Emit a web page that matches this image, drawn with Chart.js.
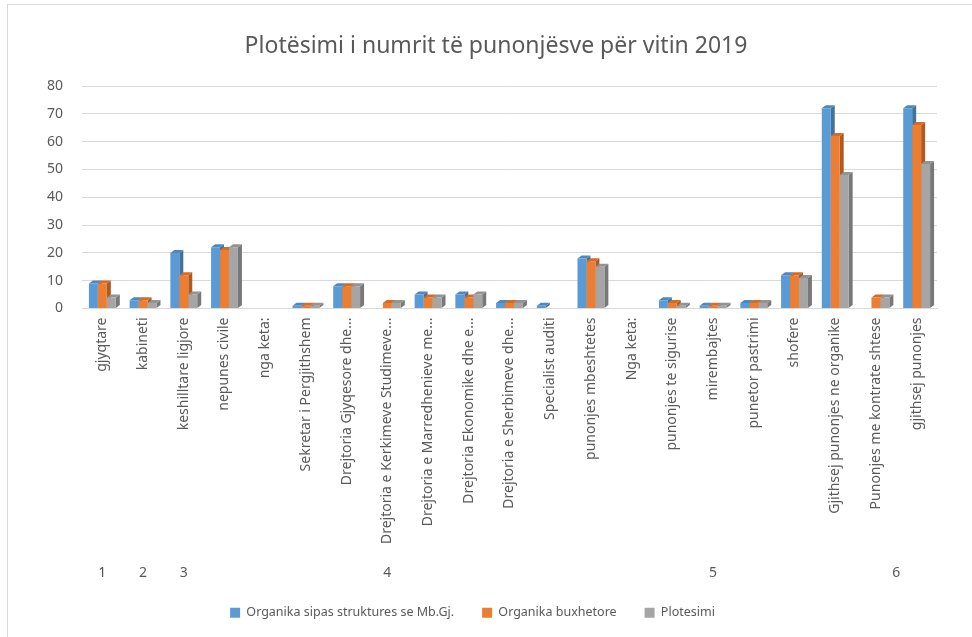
<!DOCTYPE html>
<html>
<head>
<meta charset="utf-8">
<script src="https://cdn.jsdelivr.net/npm/chart.js@4.4.0/dist/chart.umd.min.js"></script>
<style>
    html, body { margin: 0; padding: 0; background: #ffffff; overflow: hidden; }
    #box { position: absolute; left: 7px; top: 4px; width: 972px; height: 640px; border: 1px solid #d9d9d9; background: #fff; }
    #wrap { position: absolute; left: 0; top: 0; width: 964px; height: 632px; }
</style>
</head>
<body>
<div id="box"><div id="wrap"><canvas id="chart"></canvas></div></div>
<script>
const chartTitle = 'Plotësimi i numrit të punonjësve për vitin 2019';
const categories = [
    'gjyqtare', 'kabineti', 'keshilltare ligjore', 'nepunes civile', 'nga keta:',
    'Sekretar i Pergjithshem', 'Drejtoria Gjyqesore dhe...', 'Drejtoria e Kerkimeve Studimeve...',
    'Drejtoria e Marredhenieve me...', 'Drejtoria Ekonomike dhe e...', 'Drejtoria e Sherbimeve dhe...',
    'Specialist auditi', 'punonjes mbeshtetes', 'Nga keta:', 'punonjes te sigurise',
    'mirembajtes', 'punetor pastrimi', 'shofere', 'Gjithsej punonjes ne organike',
    'Punonjes me kontrate shtese', 'gjithsej punonjes'
];
const organikaStrukture = [9, 3, 20, 22, 0, 1, 8, 0, 5, 5, 2, 1, 18, 0, 3, 1, 2, 12, 72, 0, 72];
const organikaBuxhetore = [9, 3, 12, 21, 0, 1, 8, 2, 4, 4, 2, 0, 17, 0, 2, 1, 2, 12, 62, 4, 66];
const plotesimi = [4, 2, 5, 22, 0, 1, 8, 2, 4, 5, 2, 0, 15, 0, 1, 1, 2, 11, 48, 4, 52];

// second level of the category axis
const groupLabels = ['1', '2', '3', '4', '5', '6'];
const groupStart = [0, 1, 2, 3, 12, 19];
const groupEnd = [0, 1, 2, 11, 18, 20];

const yTicks = [0, 10, 20, 30, 40, 50, 60, 70, 80];

const textColor = '#595959';
const sideColors = ['#41719c', '#ae5a21', '#787878'];
const topColors = ['#4f88bb', '#d06d29', '#939393'];

// fake 3D faces behind the front of each bar
const depthPlugin = {
    id: 'depth',
    beforeDatasetsDraw(chart) {
        const ctx = chart.ctx;
        const dx = 4, dy = 3;
        chart.data.datasets.forEach(function (ds, di) {
            const meta = chart.getDatasetMeta(di);
            meta.data.forEach(function (bar, i) {
                if (!ds.data[i]) return;
                const half = bar.width / 2;
                const x1 = bar.x - half, x2 = bar.x + half;
                const top = bar.y, base = bar.base;
                ctx.save();
                ctx.fillStyle = sideColors[di];
                ctx.beginPath();
                ctx.moveTo(x2, top);
                ctx.lineTo(x2 + dx, top - dy);
                ctx.lineTo(x2 + dx, base - dy);
                ctx.lineTo(x2, base);
                ctx.closePath();
                ctx.fill();
                ctx.fillStyle = topColors[di];
                ctx.beginPath();
                ctx.moveTo(x1, top);
                ctx.lineTo(x1 + dx, top - dy);
                ctx.lineTo(x2 + dx, top - dy);
                ctx.lineTo(x2, top);
                ctx.closePath();
                ctx.fill();
                ctx.restore();
            });
        });
    }
};

// title (a bit right of centre, like the original) and the group row under the labels
const extraText = {
    id: 'extraText',
    afterDraw(chart) {
        const ctx = chart.ctx;
        const xs = chart.scales.x;
        ctx.save();
        ctx.fillStyle = textColor;
        ctx.textAlign = 'center';
        ctx.textBaseline = 'middle';
        ctx.font = '23px "Noto Sans"';
        ctx.fillText(chartTitle, 488, 41);
        ctx.font = '14px "Noto Sans"';
        for (let g = 0; g < groupLabels.length; g++) {
            let x = xs.getPixelForValue((groupStart[g] + groupEnd[g]) / 2);
            ctx.fillText(groupLabels[g], x, 568);
        }
        ctx.restore();
    }
};

const ctx = document.getElementById('chart').getContext('2d');
const myChart = new Chart(ctx, {
    type: 'bar',
    data: {
        labels: categories,
        datasets: [{
            label: 'Organika sipas struktures se Mb.Gj.',
            data: organikaStrukture,
            backgroundColor: '#5b9bd5'
        }, {
            label: 'Organika buxhetore',
            data: organikaBuxhetore,
            backgroundColor: '#ed7d31'
        }, {
            label: 'Plotesimi',
            data: plotesimi,
            backgroundColor: '#a5a5a5'
        }]
    },
    options: {
        responsive: true,
        maintainAspectRatio: false,
        animation: false,
        categoryPercentage: 0.66,
        barPercentage: 1,
        layout: { padding: { left: 0, right: 35, top: 81, bottom: 8 } },
        scales: {
            x: {
                grid: { display: false, drawTicks: false },
                border: { display: true, color: '#d9d9d9' },
                ticks: {
                    autoSkip: false,
                    maxRotation: 90,
                    minRotation: 90,
                    padding: 9,
                    color: textColor,
                    font: { family: 'Noto Sans', size: 14 }
                },
                afterFit: function (scale) { scale.height = 270; }
            },
            y: {
                min: 0,
                max: 80,
                afterBuildTicks: function (scale) {
                    scale.ticks = yTicks.map(function (v) { return { value: v }; });
                },
                grid: { color: '#d9d9d9', drawTicks: false },
                border: { display: false },
                ticks: {
                    padding: 19,
                    color: textColor,
                    font: { family: 'Noto Sans', size: 14 }
                },
                afterFit: function (scale) { scale.width = 74; }
            }
        },
        plugins: {
            title: { display: false },
            legend: {
                position: 'bottom',
                labels: {
                    boxWidth: 10,
                    boxHeight: 10,
                    padding: 28,
                    color: textColor,
                    font: { family: 'Noto Sans', size: 12.5 }
                }
            },
            tooltip: { enabled: false }
        }
    },
    plugins: [depthPlugin, extraText]
});
</script>
</body>
</html>
